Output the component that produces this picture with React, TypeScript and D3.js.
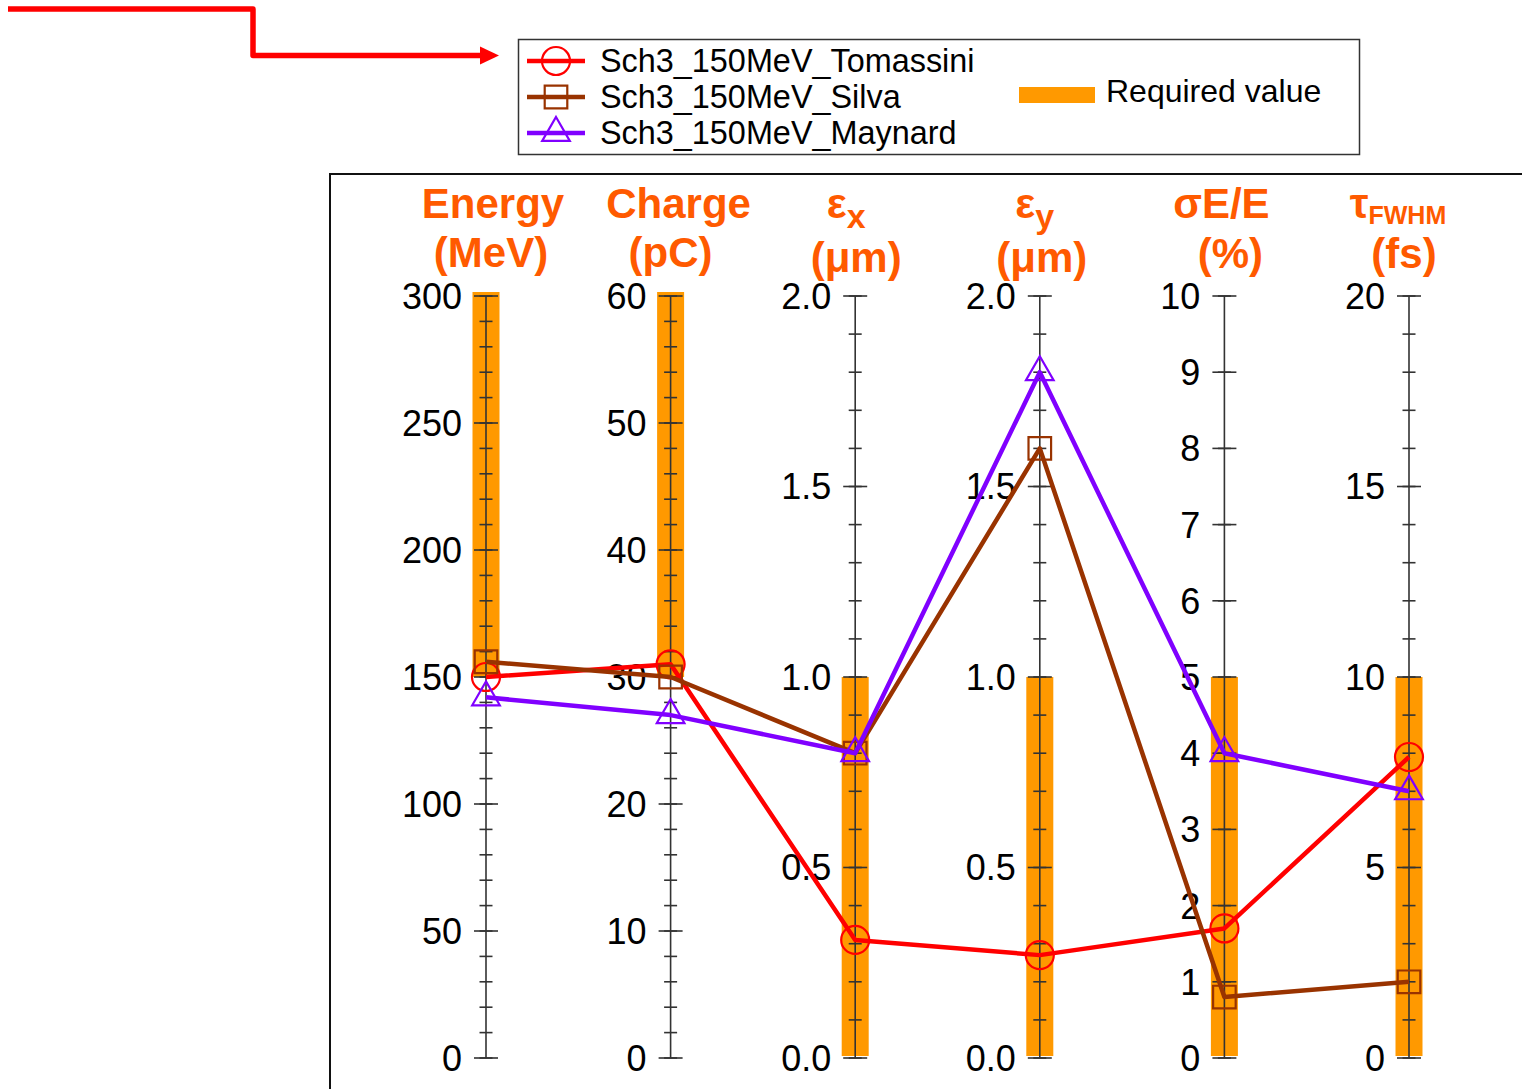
import React from "react";
import * as d3 from "d3";

// Parallel axes: one vertical axis per beam parameter
const axisKeys = ["energy", "charge", "ex", "ey", "spread", "tau"];
const axisMax = [300, 60, 2, 2, 10, 20];
const majorStep = [50, 10, 0.5, 0.5, 1, 5];
const minorStep = [10, 2, 0.1, 0.1, 1, 1];
const labelFormat = ["d", "d", ".1f", ".1f", "d", "d"];

// Required operating window for each parameter [low, high]
const requiredLow = [150, 30, 0, 0, 0, 0];
const requiredHigh = [300, 60, 1, 1, 5, 10];

// Working points of the three schemes
const seriesNames = ["Sch3_150MeV_Tomassini", "Sch3_150MeV_Silva", "Sch3_150MeV_Maynard"];
const tomassini = [150, 31, 0.31, 0.27, 1.7, 7.9];
const silva = [156, 30, 0.8, 1.6, 0.8, 2.0];
const maynard = [142, 27, 0.8, 1.8, 4.0, 7.0];
const seriesValues = [tomassini, silva, maynard];
const seriesColors = ["#ff0000", "#993300", "#8000ff"];
const seriesSymbols = ["circle", "square", "triangle"];

const requiredLabel = "Required value";

const W = 1522;
const H = 1089;
const FONT = "'Liberation Sans', Arial, Helvetica, sans-serif";
const TITLE_COLOR = "#ff5a00";
const BAR_COLOR = "#ff9900";

const x = d3.scalePoint<string>().domain(axisKeys).range([486, 1409]);
const yScales = axisMax.map((m) => d3.scaleLinear().domain([0, m]).range([1058, 296]));

function marker(kind: string, cx: number, cy: number, color: string, key: string) {
  if (kind === "circle") {
    return <circle key={key} cx={cx} cy={cy} r={14} fill="none" stroke={color} strokeWidth={2.2} />;
  }
  const sym = kind === "square" ? d3.symbolSquare : d3.symbolTriangle;
  const size = kind === "square" ? 510 : 330;
  const p = d3.symbol().type(sym).size(size)() || "";
  return (
    <path key={key} d={p} transform={`translate(${cx},${cy})`} fill="none" stroke={color} strokeWidth={2.2} />
  );
}

function AxisTitle({ i, cx }: { i: number; cx: number }) {
  const common = { fill: TITLE_COLOR, fontFamily: FONT, fontWeight: 700, textAnchor: "middle" as const };
  const k = axisKeys[i];
  if (k === "energy")
    return (
      <g {...common} fontSize={42}>
        <text x={cx + 7} y={218}>Energy</text>
        <text x={cx + 5} y={267}>(MeV)</text>
      </g>
    );
  if (k === "charge")
    return (
      <g {...common} fontSize={42}>
        <text x={cx + 8} y={218}>Charge</text>
        <text x={cx} y={267}>(pC)</text>
      </g>
    );
  if (k === "ex" || k === "ey")
    return (
      <g {...common} fontSize={42}>
        <text x={cx + (k === "ex" ? -9 : -5)} y={218}>
          ε<tspan fontSize={34} dy={10}>{k === "ex" ? "x" : "y"}</tspan>
        </text>
        <text x={cx + (k === "ex" ? 1 : 2)} y={272}>(μm)</text>
      </g>
    );
  if (k === "spread")
    return (
      <g {...common} fontSize={42}>
        <text x={cx - 3} y={218}>σE/E</text>
        <text x={cx + 6} y={268}>(%)</text>
      </g>
    );
  return (
    <g {...common} fontSize={42}>
      <text x={cx - 11} y={218}>
        τ<tspan fontSize={25} dy={6}>FWHM</tspan>
      </text>
      <text x={cx - 5} y={268}>(fs)</text>
    </g>
  );
}

export default function App() {
  const line = d3
    .line<number>()
    .x((_, i) => x(axisKeys[i]) as number)
    .y((v, i) => yScales[i](v));

  return (
    <div style={{ position: "absolute", left: 0, top: 0 }}>
      <svg width={W} height={H} style={{ display: "block", background: "#fff" }}>
        {/* pointer arrow */}
        <path d="M8,9 H253 V55.5 H484" fill="none" stroke="#ff0000" strokeWidth={5.5} strokeLinejoin="round" />
        <polygon points="480,46.5 499,55.5 480,64.5" fill="#ff0000" />

        {/* legend */}
        <rect x={518.5} y={39.5} width={841} height={115} fill="#fff" stroke="#333" strokeWidth={1.5} />
        {seriesNames.map((name, i) => {
          const ly = 61 + i * 36;
          return (
            <g key={name}>
              <line x1={527} x2={585} y1={ly} y2={ly} stroke={seriesColors[i]} strokeWidth={4.5} />
              {marker(seriesSymbols[i], 556, ly, seriesColors[i], "lm" + i)}
              <text x={600} y={ly + 11} fontFamily={FONT} fontSize={32.4} fill="#000">
                {name}
              </text>
            </g>
          );
        })}
        <rect x={1019} y={87} width={76} height={16} fill={BAR_COLOR} />
        <text x={1106} y={102} fontFamily={FONT} fontSize={32} fill="#000">
          {requiredLabel}
        </text>

        {/* chart frame */}
        <path d={`M330,${H} V174 H${W}`} fill="none" stroke="#111" strokeWidth={2} />

        {/* axes */}
        {axisKeys.map((k, i) => {
          const cx = x(k) as number;
          const y = yScales[i];
          const top = requiredHigh[i] >= axisMax[i] ? y(requiredHigh[i]) - 4 : y(requiredHigh[i]);
          const bottom = requiredLow[i] <= 0 ? y(0) - 2 : y(requiredLow[i]);
          const minors = d3.range(0, axisMax[i] + 1e-9, minorStep[i]);
          const majors = d3.range(0, axisMax[i] + 1e-9, majorStep[i]);
          const fmt = d3.format(labelFormat[i]);
          return (
            <g key={k}>
              <rect x={cx - 13.5} y={top} width={27} height={bottom - top} fill={BAR_COLOR} />
              <line x1={cx} x2={cx} y1={y(0)} y2={y(axisMax[i])} stroke="#333" strokeWidth={1.6} />
              {minors.map((v) => (
                <line key={"m" + v} x1={cx - 6.5} x2={cx + 6.5} y1={y(v)} y2={y(v)} stroke="#333" strokeWidth={1.6} />
              ))}
              {majors.map((v) => (
                <g key={"M" + v}>
                  <line x1={cx - 12} x2={cx + 12} y1={y(v)} y2={y(v)} stroke="#333" strokeWidth={1.6} />
                  <text
                    x={cx - 24}
                    y={y(v)}
                    dy="0.36em"
                    textAnchor="end"
                    fontFamily={FONT}
                    fontSize={36}
                    fill="#000"
                  >
                    {fmt(v)}
                  </text>
                </g>
              ))}
              <AxisTitle i={i} cx={cx} />
            </g>
          );
        })}

        {/* series */}
        {seriesValues.map((vals, s) => (
          <g key={seriesNames[s]}>
            <path d={line(vals) || ""} fill="none" stroke={seriesColors[s]} strokeWidth={4.5} strokeLinejoin="round" />
            {vals.map((v, i) =>
              marker(seriesSymbols[s], x(axisKeys[i]) as number, yScales[i](v), seriesColors[s], `p${s}-${i}`)
            )}
          </g>
        ))}
      </svg>
    </div>
  );
}
